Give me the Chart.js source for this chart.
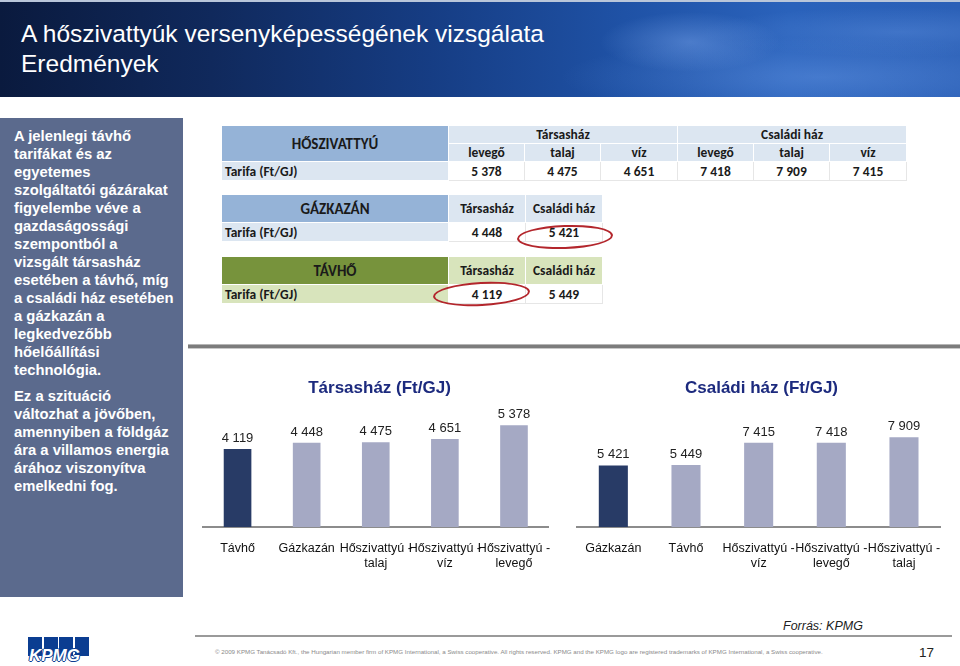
<!DOCTYPE html>
<html><head><meta charset="utf-8">
<script src="https://cdn.jsdelivr.net/npm/chart.js@4.4.0/dist/chart.umd.min.js"></script>
<style>
html,body{margin:0;padding:0;width:960px;height:666px;overflow:hidden;background:#fff;font-family:"Liberation Sans",Arial,sans-serif;}
.abs{position:absolute;}
#header{left:0;top:0;width:960px;height:95px;border-top:2px solid #b9c6da;
 background:
 radial-gradient(ellipse 90px 30px at 690px 40px, rgba(150,190,255,0.35), rgba(0,0,0,0)),
 radial-gradient(ellipse 260px 40px at 820px 75px, rgba(140,185,255,0.28), rgba(0,0,0,0)),
 radial-gradient(ellipse 200px 25px at 900px 30px, rgba(140,185,255,0.22), rgba(0,0,0,0)),
 linear-gradient(90deg,#0a1a3e 0%,#10295c 22%,#163d84 45%,#1f52a6 65%,#2a62bb 82%,#2b60b7 100%);}
#title{left:21px;top:19px;color:#fff;font-size:24.5px;line-height:30px;}
#panel{left:0;top:118px;width:183px;height:479px;background:#5b6a8d;}
#panelText{left:14px;top:127px;color:#fff;font-weight:bold;font-size:14.8px;line-height:18px;white-space:nowrap;}
#panelText p{margin:0 0 8px 0;}
table{border-collapse:collapse;font-family:Carlito,Calibri,Lato,"Open Sans",sans-serif;font-weight:bold;font-size:13.5px;color:#1a1a1a;table-layout:fixed;}
td{padding:0;text-align:center;vertical-align:middle;overflow:hidden;white-space:nowrap;}
.sep{left:188px;top:344px;width:776px;height:3px;background:#7c7c7c;border-top:1px solid #b5b5b5;border-bottom:1px solid #c8c8c8;}
.ell{border:2.5px solid #b3262c;border-radius:50%;box-sizing:border-box;}
#footLine{left:195px;top:635px;width:757px;height:2px;background:#9a9a9a;}
#source{left:783px;top:619px;font-style:italic;font-size:12.5px;color:#222;}
#copy{left:215px;top:648px;font-size:6.2px;color:#8a8a8a;white-space:nowrap;}
#page{left:919px;top:645px;font-size:13.5px;color:#222;}
#logo{left:28px;top:637px;width:62px;height:27px;}
.sq{position:absolute;top:0;width:14px;height:19px;background:#0b3d91;}
#logoText{position:absolute;left:1px;top:9px;font-style:italic;font-weight:bold;font-size:17px;color:#fff;letter-spacing:0px;
 text-shadow:1px 0 #0b3d91,-1px 0 #0b3d91,0 1px #0b3d91,0 -1px #0b3d91;}
</style></head><body>
<div id="header" class="abs"></div>
<div id="title" class="abs">A hőszivattyúk versenyképességének vizsgálata<br>Eredmények</div>
<div id="panel" class="abs"></div>
<div id="panelText" class="abs">
<p>A jelenlegi távhő<br>tarifákat és az<br>egyetemes<br>szolgáltatói gázárakat<br>figyelembe véve a<br>gazdaságossági<br>szempontból a<br>vizsgált társasház<br>esetében a távhő, míg<br>a családi ház esetében<br>a gázkazán a<br>legkedvezőbb<br>hőelőállítási<br>technológia.</p>
<p>Ez a szituáció<br>változhat a jövőben,<br>amennyiben a földgáz<br>ára a villamos energia<br>árához viszonyítva<br>emelkedni fog.</p>
</div>

<div id="tables"></div>
<div class="abs ell" style="left:517px;top:225px;width:96px;height:24px;transform:rotate(-2deg);"></div>
<div class="abs ell" style="left:433px;top:282px;width:97px;height:24px;transform:rotate(-3deg);"></div>

<div class="abs sep"></div>

<canvas id="condoChart" class="abs" width="370" height="215" style="left:195px;top:370px;"></canvas>
<canvas id="houseChart" class="abs" width="385" height="215" style="left:570px;top:370px;"></canvas>

<div id="footLine" class="abs"></div>
<div id="source" class="abs">Forrás: KPMG</div>
<div id="copy" class="abs">© 2009 KPMG Tanácsadó Kft., the Hungarian member firm of KPMG International, a Swiss cooperative. All rights reserved. KPMG and the KPMG logo are registered trademarks of KPMG International, a Swiss cooperative.</div>
<div id="page" class="abs">17</div>
<div id="logo" class="abs">
 <div class="sq" style="left:0"></div><div class="sq" style="left:15.5px"></div><div class="sq" style="left:31px"></div><div class="sq" style="left:46.5px"></div>
 <div id="logoText">KPMG</div>
</div>

<script>
// ---- data ----
const heatPumpGroups = ["Társasház", "Családi ház"];
const heatPumpSources = ["levegő", "talaj", "víz", "levegő", "talaj", "víz"];
const heatPumpTariffs = [5378, 4475, 4651, 7418, 7909, 7415];
const buildingTypes = ["Társasház", "Családi ház"];
const gasBoilerTariffs = [4448, 5421];
const districtHeatTariffs = [4119, 5449];
const tariffLabel = "Tarifa (Ft/GJ)";

const condoTitle = "Társasház (Ft/GJ)";
const condoCategories = [["Távhő"], ["Gázkazán"], ["Hőszivattyú -", "talaj"], ["Hőszivattyú -", "víz"], ["Hőszivattyú -", "levegő"]];
const condoValues = [4119, 4448, 4475, 4651, 5378];

const houseTitle = "Családi ház (Ft/GJ)";
const houseCategories = [["Gázkazán"], ["Távhő"], ["Hőszivattyú -", "víz"], ["Hőszivattyú -", "levegő"], ["Hőszivattyú -", "talaj"]];
const houseValues = [5421, 5449, 7415, 7418, 7909];

const fmt = v => String(v).replace(/\B(?=(\d{3})+(?!\d))/g, " ");

// ---- tables ----
const BLUE_D = "#95b3d7", BLUE_L = "#dce6f1", GREEN_D = "#77933c", GREEN_L = "#d8e4bc";
const tablesDiv = document.getElementById("tables");
function mk(html, left, top) {
  const d = document.createElement("div");
  d.className = "abs"; d.style.left = left + "px"; d.style.top = top + "px";
  d.innerHTML = html; tablesDiv.appendChild(d);
}
const hdr = "border:1px solid #fff;";
const val = "background:#fff;border:1px solid #e6e6e6;";
let h = '<table style="width:685px"><colgroup><col style="width:227px">' +
  heatPumpSources.map((s, i) => '<col style="width:' + (i % 3 === 2 ? 77 : 76) + 'px">').join("") + '</colgroup>';
h += '<tr style="height:18px"><td rowspan="2" style="background:' + BLUE_D + ';' + hdr + 'font-size:15px">HŐSZIVATTYÚ</td>' +
  heatPumpGroups.map(g => '<td colspan="3" style="background:' + BLUE_L + ';' + hdr + '">' + g + '</td>').join("") + '</tr>';
h += '<tr style="height:18px">' + heatPumpSources.map(s => '<td style="background:' + BLUE_L + ';' + hdr + '">' + s + '</td>').join("") + '</tr>';
h += '<tr style="height:19px"><td style="background:' + BLUE_L + ';' + hdr + 'text-align:left;padding-left:3px">' + tariffLabel + '</td>' +
  heatPumpTariffs.map(v => '<td style="' + val + '">' + fmt(v) + '</td>').join("") + '</tr></table>';
mk(h, 221, 125);

function smallTable(name, dark, light, values, top) {
  let t = '<table style="width:381px"><colgroup><col style="width:227px"><col style="width:77px"><col style="width:77px"></colgroup>';
  t += '<tr style="height:28px"><td style="background:' + dark + ';' + hdr + 'font-size:15px">' + name + '</td>' +
    buildingTypes.map(b => '<td style="background:' + light + ';' + hdr + '">' + b + '</td>').join("") + '</tr>';
  t += '<tr style="height:19px"><td style="background:' + light + ';' + hdr + 'text-align:left;padding-left:3px">' + tariffLabel + '</td>' +
    values.map(v => '<td style="' + val + '">' + fmt(v) + '</td>').join("") + '</tr></table>';
  mk(t, 221, top);
}
smallTable("GÁZKAZÁN", BLUE_D, BLUE_L, gasBoilerTariffs, 194);
smallTable("TÁVHŐ", GREEN_D, GREEN_L, districtHeatTariffs, 256);

// ---- charts ----
const FONT = '"Liberation Sans", Arial, sans-serif';
const valueLabels = {
  id: "valueLabels",
  afterDatasetsDraw(chart) {
    const ctx = chart.ctx;
    const meta = chart.getDatasetMeta(0);
    const data = chart.data.datasets[0].data;
    ctx.save();
    ctx.font = "13px " + FONT;
    ctx.fillStyle = "#222";
    ctx.textAlign = "center";
    ctx.textBaseline = "bottom";
    meta.data.forEach((bar, i) => ctx.fillText(fmt(data[i]), bar.x, bar.y - 4));
    ctx.restore();
  }
};
function makeChart(id, title, labels, values, max, padL, padR) {
  return new Chart(document.getElementById(id), {
    type: "bar",
    data: { labels: labels, datasets: [{
      data: values,
      backgroundColor: values.map((v, i) => i === 0 ? "#283b66" : "#a5a9c4"),
      barPercentage: 0.4, categoryPercentage: 1
    }]},
    options: {
      responsive: false, animation: false, maintainAspectRatio: false,
      layout: { padding: { left: padL, right: padR, top: 0, bottom: 0 } },
      plugins: {
        legend: { display: false }, tooltip: { enabled: false },
        title: { display: true, text: title, color: "#1c2a7e",
          font: { family: FONT, size: 17, weight: "bold" }, padding: { top: 8, bottom: 15 } }
      },
      scales: {
        x: { grid: { display: false, drawTicks: false },
             border: { display: true, color: "#8c8c8c", width: 2 },
             ticks: { color: "#111", font: { family: FONT, size: 12.5 }, padding: 14,
                      maxRotation: 0, minRotation: 0, autoSkip: false } },
        y: { display: false, min: 0, max: max }
      }
    },
    plugins: [valueLabels]
  });
}
makeChart("condoChart", condoTitle, condoCategories, condoValues, 6000, 8, 9);
makeChart("houseChart", houseTitle, houseCategories, houseValues, 10000, 7, 9);
</script>
</body></html>
